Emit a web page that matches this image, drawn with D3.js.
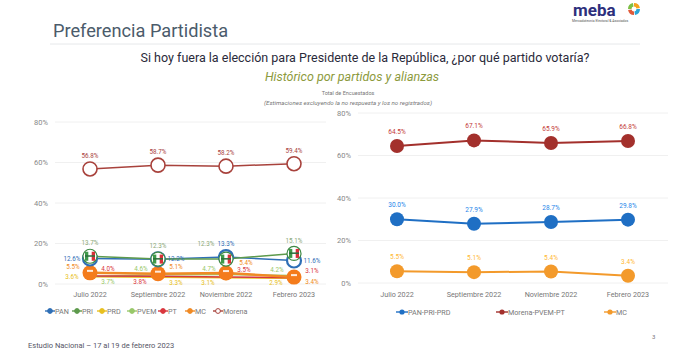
<!DOCTYPE html>
<html>
<head>
<meta charset="utf-8">
<script src="https://cdn.jsdelivr.net/npm/d3@7"></script>
<style>
  body { margin: 0; background: #fff; }
  svg { font-family: Roboto, "Liberation Sans", sans-serif; }
</style>
</head>
<body>
<svg id="chart" width="700" height="350"></svg>
<script>
// ---- data ----
const months = ["Julio 2022", "Septiembre 2022", "Noviembre 2022", "Febrero 2023"];
const yTicks = [0, 20, 40, 60, 80];

// left chart: parties
const partyNames = ["PAN", "PRI", "PRD", "PVEM", "PT", "MC", "Morena"];
const pan = [12.6, 12.2, 13.3, 11.6];
const pri = [13.7, 12.3, 12.3, 15.1];
const prd = [3.6, 3.3, 3.1, 2.9];
const pvem = [3.7, 4.6, 4.7, 4.2];
const pt = [4.0, 3.8, 3.5, 3.1];
const mc = [5.5, 5.1, 5.4, 3.4];
const morena = [56.8, 58.7, 58.2, 59.4];

// right chart: alliances
const allianceNames = ["PAN-PRI-PRD", "Morena-PVEM-PT", "MC"];
const vaPorMexico = [30.0, 27.9, 28.7, 29.8];
const juntosHacemos = [64.5, 67.1, 65.9, 66.8];
const mcAlone = [5.5, 5.1, 5.4, 3.4];

// ---- styles ----
const partyColors = {
  PAN: "#2f6fb6", PRI: "#5d9a4c", PRD: "#e8c020", PVEM: "#98c86a",
  PT: "#d9363e", MC: "#f08a24", Morena: "#a8423c"
};
const allianceColors = { "PAN-PRI-PRD": "#1f6fc4", "Morena-PVEM-PT": "#a3302c", "MC": "#f39a2b" };

// label placement per party per month (style only)
const partyLabelPos = {
  PAN: ["l", "r", "t", "r"],
  PRI: ["t", "t", "tl", "t"],
  PRD: ["l", "rd", "ld", "ld"],
  PVEM: ["rd", "lu", "lu", "lu"],
  PT: ["ru", "ld", "ru", "ru"],
  MC: ["lu", "ru", "tr", "rd"],
  Morena: ["t", "t", "t", "t"]
};
const offsets = {
  t: [0, -13], tl: [-20, -15], tr: [20, -10],
  l: [-18, 0], lu: [-17, -6], ld: [-18, 5],
  r: [18, 0], ru: [18, -7], rd: [18, 5]
};

const svg = d3.select("#chart");

// ---- header ----
svg.append("text").text("Preferencia Partidista")
  .attr("x", 53).attr("y", 37).attr("font-size", 18.2).attr("fill", "#4b5b6b");
svg.append("line").attr("x1", 50).attr("x2", 640).attr("y1", 44).attr("y2", 44)
  .attr("stroke", "#e6e8ea").attr("stroke-width", 1);

// logo
svg.append("text").text("meba").attr("x", 573).attr("y", 16)
  .attr("font-size", 17).attr("font-weight", "bold").attr("fill", "#2d2f7c");
svg.append("text").text("Mercadotecnia Electoral & Asociados").attr("x", 572).attr("y", 22)
  .attr("font-size", 3.4).attr("fill", "#555");
const logo = svg.append("g").attr("transform", "translate(634,9)");
[["#f4a21d", 0], ["#2aa6d8", 90], ["#e05a3a", 180], ["#7cbf45", 270]].forEach(([c, a]) => {
  logo.append("path")
    .attr("d", d3.arc().innerRadius(2.5).outerRadius(6).startAngle(a * Math.PI / 180).endAngle((a + 80) * Math.PI / 180)())
    .attr("fill", c);
});

svg.append("text").text("Si hoy fuera la elección para Presidente de la República, ¿por qué partido votaría?")
  .attr("x", 365).attr("y", 62).attr("text-anchor", "middle")
  .attr("font-size", 12.5).attr("fill", "#2a2a3a");
svg.append("text").text("Histórico por partidos y alianzas")
  .attr("x", 352).attr("y", 81).attr("text-anchor", "middle")
  .attr("font-size", 12.5).attr("font-style", "italic").attr("fill", "#8c9a3c");
svg.append("text").text("Total de Encuestados")
  .attr("x", 348).attr("y", 95).attr("text-anchor", "middle")
  .attr("font-size", 5.5).attr("fill", "#777");
svg.append("text").text("(Estimaciones excluyendo la no respuesta y los no registrados)")
  .attr("x", 348).attr("y", 104.5).attr("text-anchor", "middle")
  .attr("font-size", 6.2).attr("font-style", "italic").attr("fill", "#777");

svg.append("text").text("Estudio Nacional – 17 al 19 de febrero 2023")
  .attr("x", 28).attr("y", 348).attr("font-size", 7.5).attr("fill", "#556");
svg.append("text").text("3").attr("x", 652).attr("y", 339).attr("font-size", 6).attr("fill", "#777");

// ---- shared axis helper ----
function drawAxes(g, x, y, xLeft, xRight, labelX) {
  g.append("g").selectAll("line").data(yTicks).join("line")
    .attr("x1", xLeft).attr("x2", xRight)
    .attr("y1", d => y(d)).attr("y2", d => y(d))
    .attr("stroke", "#ececec").attr("stroke-width", 0.8);
  g.append("g").selectAll("text").data(yTicks).join("text")
    .text(d => d + "%")
    .attr("x", labelX).attr("y", d => y(d) + 2.5)
    .attr("text-anchor", "end").attr("font-size", 7.5).attr("fill", "#888");
  g.append("g").selectAll("text").data(months).join("text")
    .text(d => d)
    .attr("x", d => x(d)).attr("y", 297)
    .attr("text-anchor", "middle").attr("font-size", 7.2).attr("fill", "#777");
}

// ---- left chart ----
const xL = d3.scalePoint().domain(months).range([90, 294]);
const yL = d3.scaleLinear().domain([0, 80]).range([284, 122]);
const gL = svg.append("g");
drawAxes(gL, xL, yL, 55, 326, 48);

const parties = [
  { name: "PRD", values: prd }, { name: "PVEM", values: pvem },
  { name: "PT", values: pt }, { name: "MC", values: mc },
  { name: "PAN", values: pan }, { name: "PRI", values: pri },
  { name: "Morena", values: morena }
];
const lineL = d3.line().x((d, i) => xL(months[i])).y(d => yL(d));

gL.append("g").selectAll("path").data(parties).join("path")
  .attr("d", d => lineL(d.values))
  .attr("fill", "none")
  .attr("stroke", d => partyColors[d.name])
  .attr("stroke-width", d => d.name === "MC" ? 2.5 : 1.5);

// markers
parties.forEach(p => {
  const mg = gL.append("g");
  p.values.forEach((v, i) => {
    const cx = xL(months[i]), cy = yL(v);
    if (p.name === "Morena") {
      mg.append("circle").attr("cx", cx).attr("cy", cy).attr("r", 7)
        .attr("fill", "#fff").attr("stroke", partyColors.Morena).attr("stroke-width", 1.6);
    } else if (p.name === "PAN") {
      mg.append("circle").attr("cx", cx).attr("cy", cy).attr("r", 7)
        .attr("fill", "#fff").attr("stroke", partyColors.PAN).attr("stroke-width", 2.2);
    } else if (p.name === "PRI") {
      mg.append("circle").attr("cx", cx).attr("cy", cy).attr("r", 7)
        .attr("fill", "#fff").attr("stroke", "#3f8a45").attr("stroke-width", 1.2);
      mg.append("rect").attr("x", cx - 5).attr("y", cy - 4.5).attr("width", 3.3).attr("height", 9).attr("fill", "#3f9a4a");
      mg.append("rect").attr("x", cx + 1.7).attr("y", cy - 4.5).attr("width", 3.3).attr("height", 9).attr("fill", "#d9303a");
      mg.append("rect").attr("x", cx - 5).attr("y", cy - 1).attr("width", 10).attr("height", 1.5).attr("fill", "#2a6f3a");
    } else if (p.name === "MC") {
      mg.append("circle").attr("cx", cx).attr("cy", cy).attr("r", 7.5).attr("fill", "#f47c1c");
      mg.append("rect").attr("x", cx - 3).attr("y", cy - 3).attr("width", 6).attr("height", 2).attr("fill", "#fff").attr("opacity", 0.85);
    } else {
      mg.append("circle").attr("cx", cx).attr("cy", cy).attr("r", 2.5).attr("fill", partyColors[p.name]);
    }
  });
});

// labels
parties.forEach(p => {
  gL.append("g").selectAll("text").data(p.values).join("text")
    .text(d => d.toFixed(1) + "%")
    .attr("x", (d, i) => xL(months[i]) + offsets[partyLabelPos[p.name][i]][0])
    .attr("y", (d, i) => yL(d) + offsets[partyLabelPos[p.name][i]][1] + 2.2)
    .attr("text-anchor", "middle").attr("font-size", 6.3)
    .attr("fill", p.name === "PRI" ? "#8aa878" : partyColors[p.name]);
});

// left legend
const legL = gL.append("g").selectAll("g").data(partyNames).join("g")
  .attr("transform", (d, i) => `translate(${[50, 77, 102, 132, 163, 190, 218][i]},311)`);
legL.append("line").attr("x1", -5).attr("x2", 5).attr("stroke", d => partyColors[d]).attr("stroke-width", 1.4);
legL.append("circle").attr("r", 2.4)
  .attr("fill", d => d === "Morena" ? "#fff" : partyColors[d])
  .attr("stroke", d => partyColors[d]).attr("stroke-width", 1);
legL.append("text").text(d => d).attr("x", 5).attr("y", 2.6)
  .attr("font-size", 7.2).attr("fill", "#777");

// ---- right chart ----
const xR = d3.scalePoint().domain(months).range([397, 628]);
const yR = d3.scaleLinear().domain([0, 80]).range([283, 113]);
const gR = svg.append("g");
drawAxes(gR, xR, yR, 358, 668, 351);

const alliances = [
  { name: "PAN-PRI-PRD", values: vaPorMexico },
  { name: "Morena-PVEM-PT", values: juntosHacemos },
  { name: "MC", values: mcAlone }
];
const lineR = d3.line().x((d, i) => xR(months[i])).y(d => yR(d));

const ag = gR.append("g").selectAll("g").data(alliances).join("g");
ag.append("path")
  .attr("d", d => lineR(d.values))
  .attr("fill", "none").attr("stroke", d => allianceColors[d.name]).attr("stroke-width", 2);
ag.selectAll("circle").data(d => d.values.map(v => ({ v, name: d.name }))).join("circle")
  .attr("cx", (d, i) => xR(months[i])).attr("cy", d => yR(d.v)).attr("r", 7)
  .attr("fill", d => allianceColors[d.name]);
ag.selectAll("text").data(d => d.values.map(v => ({ v, name: d.name }))).join("text")
  .text(d => d.v.toFixed(1) + "%")
  .attr("x", (d, i) => xR(months[i])).attr("y", d => yR(d.v) - 12)
  .attr("text-anchor", "middle").attr("font-size", 6.5)
  .attr("fill", d => d3.color(allianceColors[d.name]).brighter(0.5));

// right legend
const legR = gR.append("g").selectAll("g").data(allianceNames).join("g")
  .attr("transform", (d, i) => `translate(${[402, 502, 610][i]},312)`);
legR.append("line").attr("x1", -6).attr("x2", 6).attr("stroke", d => allianceColors[d]).attr("stroke-width", 1.4);
legR.append("circle").attr("r", 2.6).attr("fill", d => allianceColors[d]);
legR.append("text").text(d => d).attr("x", 6).attr("y", 2.6)
  .attr("font-size", 7.2).attr("fill", "#777");
</script>
</body>
</html>
